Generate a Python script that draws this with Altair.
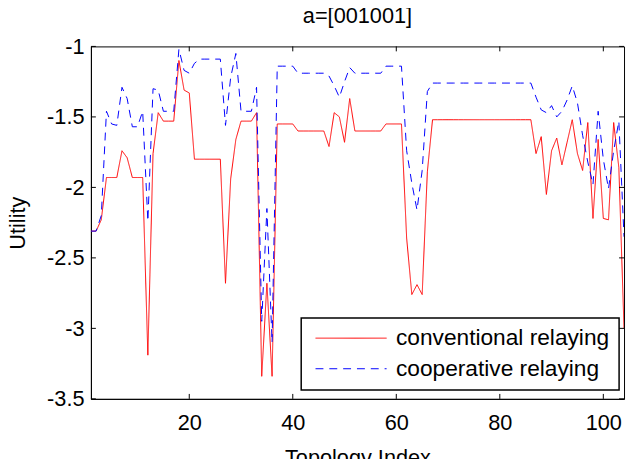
import altair as alt
import pandas as pd

# ---------------- data ----------------
x_index = list(range(1, 105))

conventional = [
    -2.31, -2.31, -2.23, -1.93, -1.93, -1.93, -1.74, -1.79, -1.93, -1.93,   # 1-10
    -1.93, -3.19, -1.76, -1.47, -1.53, -1.53, -1.53, -1.10, -1.31, -1.33,   # 11-20
    -1.80, -1.80, -1.80, -1.80, -1.80, -1.80, -2.68, -1.94, -1.66, -1.53,   # 21-30
    -1.53, -1.53, -1.47, -3.34, -2.68, -3.34, -1.55, -1.55, -1.55, -1.55,   # 31-40
    -1.60, -1.60, -1.60, -1.60, -1.60, -1.60, -1.71, -1.47, -1.50, -1.68,   # 41-50
    -1.37, -1.60, -1.60, -1.60, -1.60, -1.60, -1.60, -1.55, -1.55, -1.55,   # 51-60
    -1.55, -2.36, -2.76, -2.69, -2.76, -1.89, -1.52, -1.52, -1.52, -1.52,   # 61-70
    -1.52, -1.52, -1.52, -1.52, -1.52, -1.52, -1.52, -1.52, -1.52, -1.52,   # 71-80
    -1.52, -1.52, -1.52, -1.52, -1.52, -1.52, -1.76, -1.64, -2.05, -1.74,   # 81-90
    -1.65, -1.84, -1.68, -1.52, -1.76, -1.88, -1.54, -2.22, -1.66, -2.22,   # 91-100
    -2.23, -1.54, -1.86, -3.00,                                             # 101-104
]

cooperative = [
    -2.31, -2.31, -2.20, -1.46, -1.55, -1.56, -1.29, -1.37, -1.57, -1.57,   # 1-10
    -1.46, -2.24, -1.30, -1.31, -1.46, -1.46, -1.46, -1.02, -1.17, -1.19,   # 11-20
    -1.12, -1.09, -1.09, -1.09, -1.09, -1.09, -1.56, -1.22, -1.05, -1.46,   # 21-30
    -1.46, -1.46, -1.29, -2.95, -2.15, -3.10, -1.14, -1.14, -1.14, -1.14,   # 31-40
    -1.19, -1.19, -1.19, -1.19, -1.19, -1.19, -1.21, -1.28, -1.36, -1.25,   # 41-50
    -1.15, -1.19, -1.19, -1.19, -1.19, -1.19, -1.19, -1.14, -1.14, -1.14,   # 51-60
    -1.14, -1.74, -1.97, -2.16, -1.88, -1.32, -1.26, -1.26, -1.26, -1.26,   # 61-70
    -1.26, -1.26, -1.26, -1.26, -1.26, -1.26, -1.26, -1.26, -1.26, -1.26,   # 71-80
    -1.26, -1.26, -1.26, -1.26, -1.26, -1.26, -1.36, -1.45, -1.47, -1.42,   # 81-90
    -1.50, -1.46, -1.38, -1.28, -1.40, -1.63, -1.82, -1.98, -1.46, -1.80,   # 91-100
    -2.01, -1.74, -1.53, -2.35,                                             # 101-104
]

series_names = ["conventional relaying", "cooperative relaying"]
series_colors = ["#ff0000", "#0000ff"]
series_dashes = [[1, 0], [8, 6]]

x_ticks = [20, 40, 60, 80, 100]
y_ticks = [-3.5, -3.0, -2.5, -2.0, -1.5, -1.0]

chart_title = "a=[001001]"
x_title = "Topology Index"
y_title = "Utility"

# ---------------- tables ----------------
df = pd.DataFrame({
    "index": x_index * 2,
    "utility": conventional + cooperative,
    "series": [series_names[0]] * len(x_index) + [series_names[1]] * len(x_index),
})
xt = pd.DataFrame({"index": x_ticks})
yt = pd.DataFrame({"utility": y_ticks})

FONT = "Liberation Sans"
FS = 22
W, H = 540, 357

xscale = alt.Scale(domain=[1, 104], nice=False, zero=False)
yscale = alt.Scale(domain=[-3.5, -1.0], nice=False, zero=False)

x_axis = alt.Axis(values=x_ticks, title=x_title, ticks=False, grid=False,
                  labelPadding=14, titlePadding=14, labelFlush=False,
                  domainColor="black", labelFont=FONT, labelFontSize=FS,
                  labelColor="black", titleFont=FONT, titleFontSize=FS,
                  titleFontWeight="normal", titleColor="black",
                  labelExpr="toString(datum.value)")
y_axis = alt.Axis(values=y_ticks, title=y_title, ticks=False, grid=False,
                  labelPadding=7, titlePadding=17, domainColor="black",
                  labelFont=FONT, labelFontSize=FS, labelColor="black",
                  titleFont=FONT, titleFontSize=FS, titleFontWeight="normal",
                  titleColor="black", labelExpr="toString(datum.value)")

legend = alt.Legend(
    title=None, orient="none", legendX=213, legendY=275,
    symbolType="M-6,0H6", symbolSize=144, symbolStrokeWidth=1,
    symbolOffset=30, labelOffset=34, padding=9, rowPadding=7, columnPadding=0,
    labelFont=FONT, labelFontSize=23, labelColor="black", labelLimit=400,
    fillColor="white", strokeColor="black", cornerRadius=0,
)

x_enc = alt.X("index:Q", scale=xscale, axis=x_axis)
y_enc = alt.Y("utility:Q", scale=yscale, axis=y_axis)
color_enc = alt.Color("series:N",
                      scale=alt.Scale(domain=series_names, range=series_colors),
                      legend=legend)
dash_enc = alt.StrokeDash("series:N",
                          scale=alt.Scale(domain=series_names, range=series_dashes),
                          legend=legend)

base = alt.Chart(df).encode(x=x_enc, y=y_enc, color=color_enc, strokeDash=dash_enc)

red_line = base.transform_filter(alt.datum.series == series_names[0]).mark_line(strokeWidth=1, clip=True)
blue_line = base.transform_filter(alt.datum.series == series_names[1]).mark_line(strokeWidth=1, clip=True)

tick_len = 5
left_ticks = alt.Chart(yt).mark_rule(color="black", strokeWidth=1).encode(
    y=y_enc, x=alt.value(0), x2=alt.value(tick_len))
right_ticks = alt.Chart(yt).mark_rule(color="black", strokeWidth=1).encode(
    y=y_enc, x=alt.value(W - tick_len), x2=alt.value(W))
bottom_ticks = alt.Chart(xt).mark_rule(color="black", strokeWidth=1).encode(
    x=x_enc, y=alt.value(H - tick_len), y2=alt.value(H))
top_ticks = alt.Chart(xt).mark_rule(color="black", strokeWidth=1).encode(
    x=x_enc, y=alt.value(0), y2=alt.value(tick_len))

chart = alt.layer(
    red_line, blue_line, left_ticks, right_ticks, bottom_ticks, top_ticks
).properties(
    width=W, height=H,
    title=alt.TitleParams(chart_title, font=FONT, fontSize=FS, fontWeight="normal",
                          color="black", anchor="middle", baseline="alphabetic",
                          offset=8, dy=17),
    autosize=alt.AutoSizeParams(type="none"),
    padding={"left": 84, "top": 36, "right": 2, "bottom": 58},
    background="white",
).configure_view(
    stroke="black", strokeWidth=1
).configure_legend(
    strokeWidth=1.5
)

chart.save("out.html", embed_options={"renderer": "svg", "actions": False})
